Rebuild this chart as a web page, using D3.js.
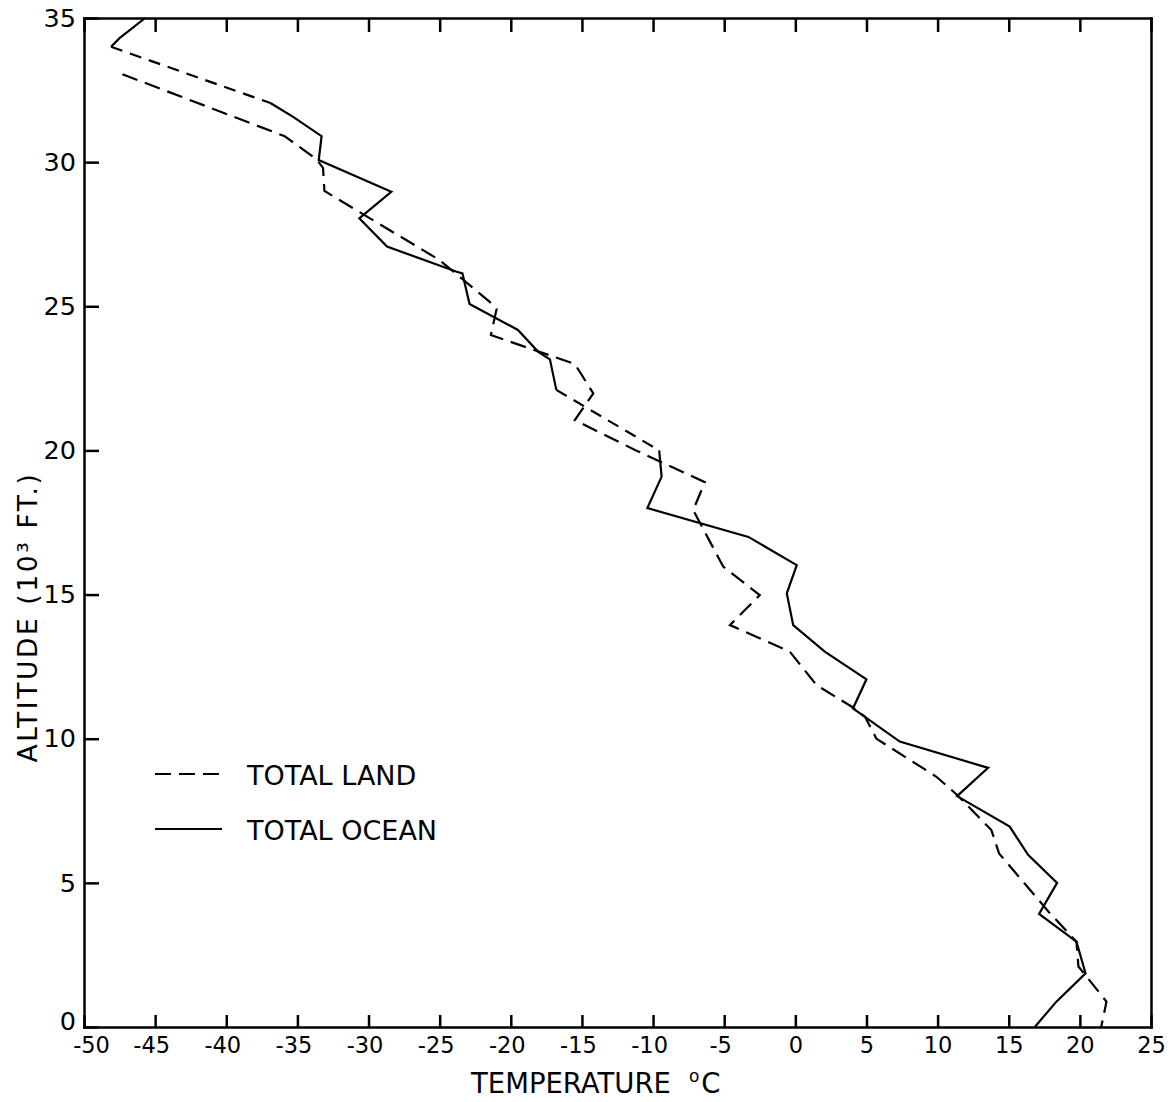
<!DOCTYPE html>
<html>
<head>
<meta charset="utf-8">
<script src="https://cdn.jsdelivr.net/npm/d3@7"></script>
<style>
    body { margin: 0; background: #fff; }
    svg { display: block; font-family: "DejaVu Sans", "Liberation Sans", sans-serif; }
    .eixo path, .eixo line { stroke: #000; stroke-width: 2.5; }
    .eixo text { fill: #000; font-family: "DejaVu Sans", sans-serif; }
</style>
</head>
<body>
<svg id="grafico" width="1171" height="1102"></svg>
<script>

// temperatura (C) e altitude (10^3 ft)
const temperaturaOceano = [-45.7, -47.5, -48.1, -36.9, -35.3, -33.3, -33.5, -28.4, -30.65, -28.7, -23.8, -23.4, -22.9, -19.5, -18.07, -17.25, -16.8, -9.57, -9.4, -10.4, -3.3, 0.1, -0.6, -0.15, 2.07, 5.0, 4.05, 7.34, 13.55, 11.37, 15.07, 16.36, 18.4, 17.13, 19.76, 20.4, 18.35, 16.83];
const altitudeOceano    = [35, 34.3, 34.0, 32.05, 31.57, 30.9, 30.07, 28.97, 28.05, 27.07, 26.2, 26.14, 25.08, 24.18, 23.42, 23.16, 22.1, 20.0, 19.09, 18.0, 17.0, 16.02, 15.04, 13.94, 13.02, 12.06, 11.05, 9.9, 8.99, 8.01, 6.95, 5.97, 5.0, 3.92, 2.96, 1.86, 0.88, 0];
// trechos do oceano (indice do ponto inicial) desenhados tracejados, sem dado intermediario
const trechosTracejadosOceano = [2, 16];

const temperaturaTerra = [-47.3, -35.9, -33.65, -33.2, -33.1, -25.0, -21.5, -21.0, -21.4, -15.5, -14.2, -15.5, -11.2, -6.36, -7.18, -5.07, -2.5, -4.6, -0.39, 1.49, 4.0, 4.9, 5.7, 9.92, 11.37, 13.78, 14.32, 17.8, 19.76, 19.9, 21.87, 21.5];
const altitudeTerra    = [33.05, 30.9, 30.1, 29.8, 29.0, 26.6, 25.16, 24.9, 24.0, 23.0, 21.98, 21.05, 20.0, 18.9, 17.93, 15.97, 14.98, 13.94, 13.02, 11.86, 11.1, 10.76, 10.0, 8.68, 8.05, 6.83, 6.02, 4.0, 2.96, 2.1, 0.88, 0];

const ticksTemperatura = [-50, -45, -40, -35, -30, -25, -20, -15, -10, -5, 0, 5, 10, 15, 20, 25];
const ticksAltitude = [0, 5, 10, 15, 20, 25, 30, 35];
const legenda = ["TOTAL LAND", "TOTAL OCEAN"];

const svg = d3.select("#grafico");

const x = d3.scaleLinear().domain([-50, 25]).range([84, 1151]);
const y = d3.scaleLinear().domain([0, 35]).range([1027, 18]);

// eixos com marcas para dentro
const eixoX = svg.append("g")
    .attr("class", "eixo")
    .attr("transform", "translate(0," + y(0) + ")")
    .call(d3.axisBottom(x).tickValues(ticksTemperatura).tickSizeInner(-12).tickSizeOuter(0).tickPadding(10)
        .tickFormat((d) => String(d)));

// o sinal de menos fica pendurado a esquerda; o primeiro rotulo desvia do canto
eixoX.selectAll("text")
    .style("font-size", "22.5px")
    .attr("dx", (d) => d == -50 ? 7 : (d < 0 ? -4 : 0));

svg.append("g")
    .attr("class", "eixo")
    .attr("transform", "translate(0," + y(35) + ")")
    .call(d3.axisTop(x).tickValues(ticksTemperatura).tickSizeInner(-14).tickSizeOuter(0).tickFormat(""));

svg.append("g")
    .attr("class", "eixo")
    .attr("transform", "translate(" + x(-50) + ",0)")
    .call(d3.axisLeft(y).tickValues(ticksAltitude).tickSizeInner(-15).tickSizeOuter(0).tickPadding(8))
    .selectAll("text")
        .style("font-size", "25.5px")
        .attr("y", (d) => d == 0 ? -6 : 0);

svg.append("g")
    .attr("class", "eixo")
    .attr("transform", "translate(" + x(25) + ",0)")
    .call(d3.axisRight(y).tickValues([]).tickSizeOuter(0));

svg.selectAll(".eixo .domain").attr("stroke-linecap", "square");

// titulos dos eixos
const tituloX = svg.append("text")
    .attr("x", 471)
    .attr("y", 1093)
    .style("font-size", "27.5px");
tituloX.append("tspan").text("TEMPERATURE");
tituloX.append("tspan").attr("dx", 18).attr("dy", -11).style("font-size", "17px").text("o");
tituloX.append("tspan").attr("dx", 2).attr("dy", 11).text("C");

svg.append("text")
    .attr("transform", "translate(37,617) rotate(-90)")
    .attr("text-anchor", "middle")
    .style("font-size", "26.5px")
    .style("letter-spacing", "2.6px")
    .text("ALTITUDE (10³ FT.)");

// curvas
const linha = d3.line()
    .x((d) => x(d[0]))
    .y((d) => y(d[1]));

const pontosOceano = temperaturaOceano.map((t, i) => [t, altitudeOceano[i]]);
const pontosTerra = temperaturaTerra.map((t, i) => [t, altitudeTerra[i]]);

// separa o oceano em trechos continuos e tracejados
const segmentosOceano = [];
let atual = [pontosOceano[0]];
for (let i = 1; i < pontosOceano.length; i++){
    if (trechosTracejadosOceano.includes(i - 1)){
        segmentosOceano.push({pontos: atual, tracejado: false});
        segmentosOceano.push({pontos: [pontosOceano[i - 1], pontosOceano[i]], tracejado: true});
        atual = [pontosOceano[i]];
    } else {
        atual.push(pontosOceano[i]);
    }
}
segmentosOceano.push({pontos: atual, tracejado: false});

svg.append("g")
    .selectAll("path")
    .data(segmentosOceano)
    .enter().append("path")
        .attr("d", (d) => linha(d.pontos))
        .attr("fill", "none")
        .attr("stroke", "#000")
        .attr("stroke-width", 2.2)
        .attr("stroke-dasharray", (d) => d.tracejado ? "12,8" : null);

svg.append("path")
    .datum(pontosTerra)
    .attr("d", linha)
    .attr("fill", "none")
    .attr("stroke", "#000")
    .attr("stroke-width", 2.2)
    .attr("stroke-dasharray", "16,8");

// legenda
const itensLegenda = svg.append("g")
    .selectAll("g")
    .data(legenda)
    .enter().append("g")
        .attr("transform", (d, i) => "translate(0," + (774 + i * 55) + ")");

itensLegenda.append("line")
    .attr("x1", 155)
    .attr("x2", 222)
    .attr("stroke", "#000")
    .attr("stroke-width", 2.2)
    .attr("stroke-dasharray", (d, i) => i == 0 ? "16,8" : null);

itensLegenda.append("text")
    .attr("x", 247)
    .attr("y", 11)
    .style("font-size", "27px")
    .text((d) => d);

</script>
</body>
</html>
